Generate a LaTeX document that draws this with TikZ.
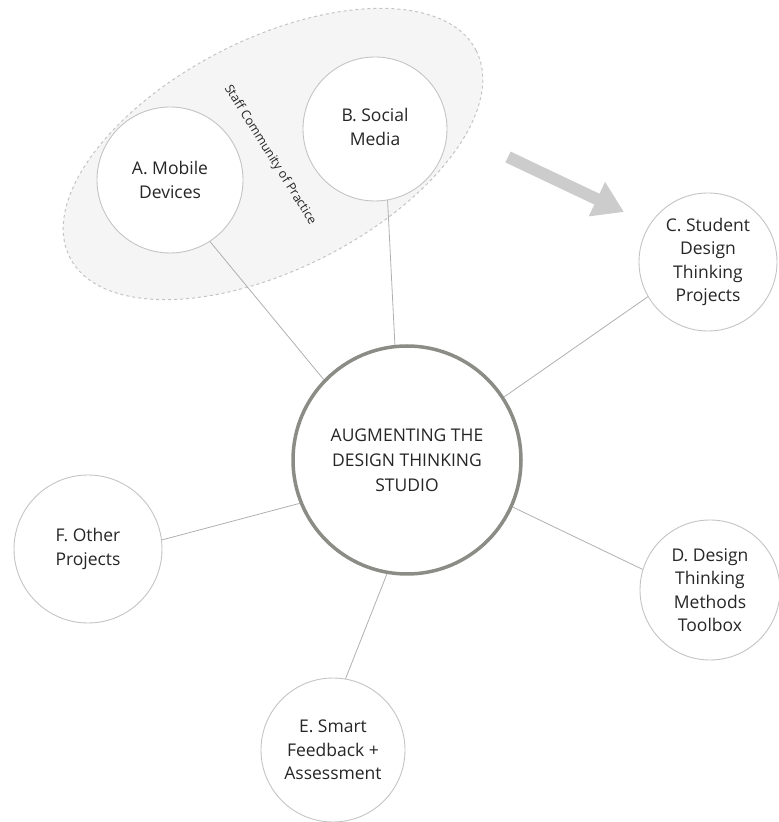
\documentclass[tikz,border=0pt]{standalone}
\usepackage{fontspec}
\setmainfont{Open Sans}
\usetikzlibrary{arrows.meta}
\definecolor{randgrau}{HTML}{C4C4C4}
\definecolor{liniengrau}{HTML}{B0B0B0}
\definecolor{nabegrau}{HTML}{8C8C86}
\definecolor{textgrau}{HTML}{262626}

\newcommand{\hochtext}[1]{\raisebox{6pt}{\begin{tabular}{@{}c@{}}#1\end{tabular}}}

\tikzset{
    kreis/.style={circle, draw=randgrau, line width=0.9pt, fill=white, minimum size=#1,
        inner sep=0pt, align=center, text=textgrau, font=\fontsize{17.5}{23.5}\selectfont},
    nabe/.style={circle, draw=nabegrau, line width=3.5pt, fill=white, minimum size=228pt,
        inner sep=0pt, align=center, text=textgrau, font=\fontsize{17.5}{25}\selectfont},
    verbindung/.style={draw=liniengrau, line width=0.8pt}
}

\begin{document}
\begin{tikzpicture}[x=1pt, y=1pt]
    \useasboundingbox (0,0) rectangle (779,822);

    % Ellipse der Staff Community
    \filldraw[fill=gray!8, draw=randgrau, dashed, line width=1pt, rotate around={27:(273,668)}]
        (273,668) ellipse (228 and 115);
    \node[rotate=-58, text=textgrau, font=\fontsize{12.5}{14}\selectfont] (staff) at (270,667) {Staff Community of Practice};

    % Knoten
    \node[nabe] (hub) at (407,362) {AUGMENTING THE\\DESIGN THINKING\\STUDIO};
    \node[kreis=146pt] (mobil) at (170,642) {A. Mobile\\Devices};
    \node[kreis=144pt] (sozial) at (375,693) {\hochtext{B. Social\\Media}};
    \node[kreis=138pt] (student) at (708,560) {C. Student\\Design\\Thinking\\Projects};
    \node[kreis=140pt] (toolbox) at (710,232) {D. Design\\Thinking\\Methods\\Toolbox};
    \node[kreis=144pt] (feedback) at (333,72) {E. Smart\\Feedback +\\Assessment};
    \node[kreis=148pt] (andere) at (88,273) {\hochtext{F. Other\\Projects}};

    % Verbindungen zur Mitte
    \draw[verbindung] (mobil.-57) -- (hub.136);
    \draw[verbindung] (sozial.-80) -- (hub.96);
    \draw[verbindung] (student.-150) -- (hub.33);
    \draw[verbindung] (toolbox.163) -- (hub.-24);
    \draw[verbindung] (feedback.80) -- (hub.-100);
    \draw[verbindung] (andere.7) -- (hub.-158);

    % grosser grauer Pfeil
    \coordinate (pfeilstart) at (508,665);
    \coordinate (pfeilende) at (624,610);
    \draw[gray!40, line width=12pt, -{Triangle[length=30pt, width=36pt]}] (pfeilstart) -- (pfeilende);
\end{tikzpicture}
\end{document}
